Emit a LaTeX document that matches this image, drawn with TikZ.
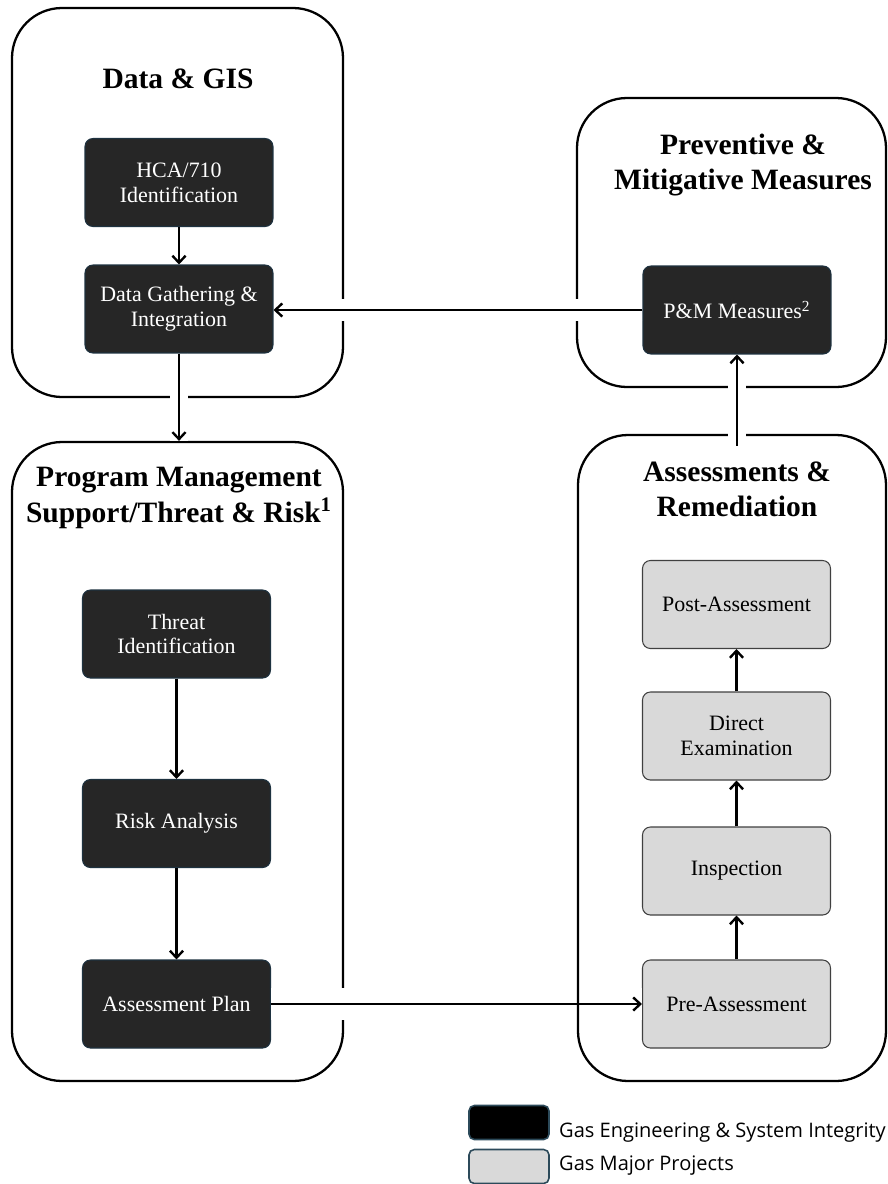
\documentclass[tikz,border=0pt]{standalone}
\usepackage{fontspec}
\setmainfont{Liberation Serif}
\newfontfamily\keyfont{Open Sans}
\usetikzlibrary{arrows.meta,fit}
\definecolor{darkfill}{HTML}{262626}
\definecolor{darkline}{HTML}{1E3240}
\definecolor{lightfill}{HTML}{D9D9D9}
\definecolor{lightline}{HTML}{404040}
\definecolor{keyline}{HTML}{2C4A5A}

\begin{document}
\begin{tikzpicture}[x=0.02cm, y=-0.02cm, >={Straight Barb[length=4pt,width=7.5pt]},
	group/.style={draw, line width=1.3pt, rounded corners=1cm, inner sep=0pt},
	title/.style={font=\fontsize{16.8}{20}\selectfont\bfseries, align=center},
	darkbox/.style={draw=darkline, fill=darkfill, text=white, line width=0.6pt, rounded corners=4.5pt,
		minimum width=3.76cm, minimum height=1.76cm, align=center, font=\fontsize{12.5}{14}\selectfont},
	lightbox/.style={darkbox, draw=lightline, fill=lightfill, text=black},
	keybox/.style={draw=keyline, line width=0.9pt, rounded corners=3pt, minimum width=1.6cm, minimum height=0.68cm},
	link/.style={->, line width=1.35pt},
	gap/.style={preaction={draw=white, -, line width=#1}}, gap/.default=10pt]
	\useasboundingbox (0,0) rectangle (888,1184);
	%\draw [help lines, step=1cm] (0,0) grid (888,1184);

	% groups
	\node [group, fit={(12,8) (343,397)}] (gis) {};
	\node [group, fit={(577,98) (886,387)}] (pm) {};
	\node [group, fit={(12,442) (343,1081)}] (prog) {};

	\node [title] (gistitle) at (178,79) {Data \& GIS};
	\node [title] (pmtitle) at (743,165) {Preventive \&\\Mitigative Measures};
	\node [title] (progtitle) at (179,498) {Program Management\\Support/Threat \& Risk\textsuperscript{1}};
	\node [title] (artitle) at (737,489) {Assessments \&\\Remediation};

	% steps
	\node [darkbox] (hca) at (179,182.5) {HCA/710\\Identification};
	\node [darkbox] (gather) at (179,309) {Data Gathering \&\\Integration};
	\node [darkbox] (measures) at (737,310) {P\&M Measures\textsuperscript{2}};
	\node [darkbox] (threat) at (176.5,634) {Threat\\Identification};
	\node [darkbox] (risk) at (176.5,823.5) {Risk Analysis};
	\node [darkbox] (plan) at (176.5,1004) {Assessment Plan};
	\node [lightbox] (post) at (736.5,604.5) {Post-Assessment};
	\node [lightbox] (direct) at (736.5,736) {Direct\\Examination};
	\node [lightbox] (inspect) at (736.5,871) {Inspection};
	\node [lightbox] (pre) at (736.5,1004) {Pre-Assessment};

	\draw [link] (hca) -- (gather);
	\draw [link] (threat) -- (risk);
	\draw [link] (risk) -- (plan);
	\draw [link] (pre) -- (inspect);
	\draw [link] (inspect) -- (direct);
	\draw [link] (direct) -- (post);
	\draw [link, gap] (gather.south) -- (gather.south |- prog.north);
	\draw [link, gap=12pt] (measures.west) -- (gather.east |- measures.west);
	\draw [link, gap=18pt] (plan.east) -- (pre.west);

	\node [group, fit={(578,435) (886,1081)}] (ar) {};
	\coordinate (artop) at ([yshift=-0.24cm]ar.north);
	\draw [link, gap] (measures.south |- artop) -- (measures.south);

	% key
	\node [keybox, fill=black] (keydark) at (509,1122.5) {};
	\node [keybox, fill=lightfill] (keylight) at (509,1166.5) {};
	\node [anchor=base west, font=\keyfont\fontsize{11.4}{14}\selectfont] (keydarktext) at (553,1137) {Gas Engineering \& System Integrity};
	\node [anchor=base west, font=\keyfont\fontsize{11.4}{14}\selectfont] (keylighttext) at (553,1170) {Gas Major Projects};
\end{tikzpicture}
\end{document}
